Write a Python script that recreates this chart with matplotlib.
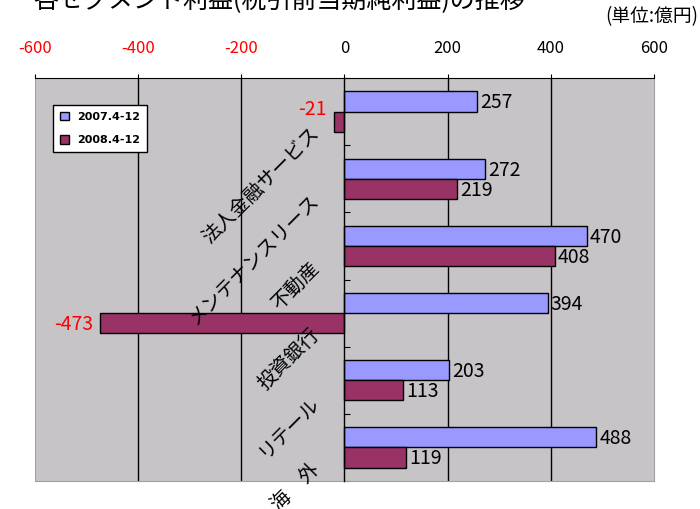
import matplotlib
matplotlib.use("Agg")
import matplotlib.pyplot as plt
import numpy as np

plt.rcParams['font.family'] = ['Noto Sans CJK JP', 'DejaVu Sans']

### Données

segments = ['法人金融サービス', 'メンテナンスリース', '不動産', '投資銀行', 'リテール', '海　外']
v2007 = [257, 272, 470, 394, 203, 488]
v2008 = [-21, 219, 408, -473, 113, 119]
series_labels = ['2007.4-12', '2008.4-12']
xticks = [-600, -400, -200, 0, 200, 400, 600]

### Couleurs

bleu = '#9999ff'
bordeaux = '#993366'
gris = '#c6c4c7'

fig = plt.figure(figsize=(7, 5.09), dpi=100)
ax = fig.add_axes([0.05, 0.055, 0.884, 0.7917])
ax.set_facecolor(gris)

y = np.arange(len(segments))
h = 0.3
ax.barh(y - h/2, v2007, height=h, color=bleu, edgecolor='black', linewidth=1, label=series_labels[0], zorder=3)
ax.barh(y + h/2, v2008, height=h, color=bordeaux, edgecolor='black', linewidth=1, label=series_labels[1], zorder=3)

ax.set_xlim(-600, 600)
ax.set_ylim(len(segments) - 0.5, -0.5)

# grille verticale
for g in [-400, -200, 200, 400]:
    ax.axvline(g, color='black', linewidth=1, zorder=1)

# axe des catégories en x=0
ax.spines['left'].set_position(('data', 0))
ax.spines['left'].set_linewidth(1)
ax.spines['left'].set_zorder(4)
ax.set_yticks(np.arange(-0.5, len(segments)))
ax.tick_params(axis='y', direction='in', length=4, labelleft=False)
for s in ['right', 'bottom']:
    ax.spines[s].set_color('#a0a0a0')
ax.axvline(-600, color='#a0a0a0', linewidth=1.5, zorder=1)

# axe des valeurs en haut
ax.xaxis.tick_top()
ax.set_xticks(xticks)
ax.set_xticklabels([str(t) for t in xticks], fontsize=12)
for lab, t in zip(ax.get_xticklabels(), xticks):
    lab.set_color('red' if t < 0 else 'black')
ax.tick_params(axis='x', direction='out', length=3, pad=12.5)

# étiquettes des catégories
for i, name in enumerate(segments):
    ax.text(-55, i + 0.28, name, rotation=45, rotation_mode='anchor',
            ha='right', va='center', fontsize=14, zorder=5)

# étiquettes des valeurs
for vals, off in [(v2007, -h/2), (v2008, h/2)]:
    for i, v in enumerate(vals):
        if v >= 0:
            ax.text(v + 6, i + off + 0.02, str(v), ha='left', va='center', fontsize=14, zorder=5)
        else:
            dy = -0.2 if abs(v) < 50 else 0.0
            ax.text(v - 14, i + off + 0.02 + dy, str(v), ha='right', va='center',
                    fontsize=14, color='red', zorder=5)

leg = ax.legend(loc='upper left', bbox_to_anchor=(0.029, 0.933), borderaxespad=0,
                fancybox=False, framealpha=1, edgecolor='black',
                handlelength=0.8, handleheight=0.8, labelspacing=1.2, borderpad=0.6,
                prop={'family': 'DejaVu Sans', 'size': 8, 'weight': 'bold'})
leg.get_frame().set_linewidth(1)

fig.text(0.047, 1 - 8/509, '各セグメント利益(税引前当期純利益)の推移', fontsize=18, va='baseline')
fig.text(0.998, 1 - 17/509, '(単位:億円)', fontsize=13.5, ha='right', va='center')

plt.savefig('out.png', dpi=100)
